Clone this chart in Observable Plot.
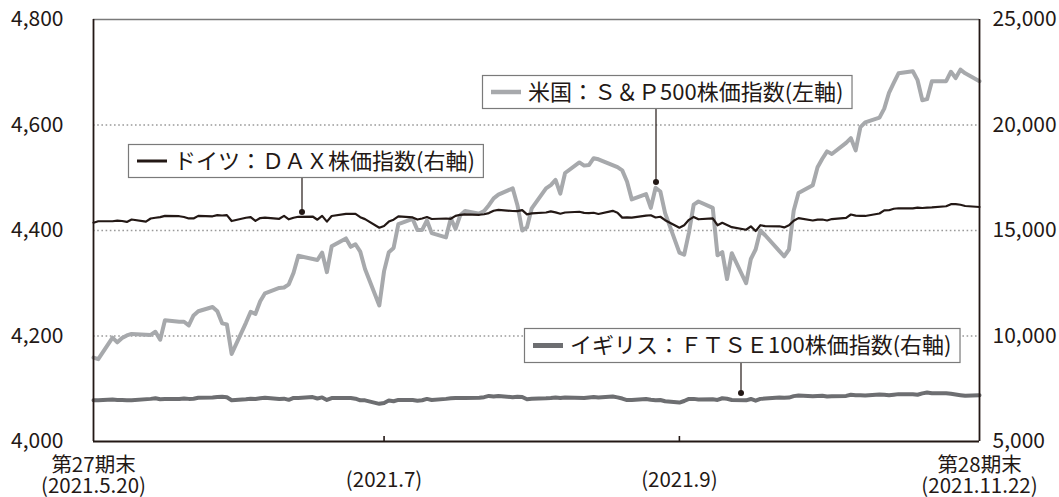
<!DOCTYPE html>
<html><head><meta charset="utf-8">
<script src="https://cdn.jsdelivr.net/npm/d3@7"></script>
<script src="https://cdn.jsdelivr.net/npm/@observablehq/plot@0.6"></script>
<style>
html,body{margin:0;padding:0;background:#fff;}
#chart{width:1059px;height:497px;}
svg{display:block;}
</style></head><body><div id="chart"></div>
<script>
// trading days (month-day, 2021)
const dates = [
"05-20","05-21","05-24","05-25","05-26","05-27","05-28","05-31",
"06-01","06-02","06-03","06-04","06-07","06-08","06-09","06-10","06-11","06-14","06-15","06-16","06-17","06-18","06-21","06-22","06-23","06-24","06-25","06-28","06-29","06-30",
"07-01","07-02","07-05","07-06","07-07","07-08","07-09","07-12","07-13","07-14","07-15","07-16","07-19","07-20","07-21","07-22","07-23","07-26","07-27","07-28","07-29","07-30",
"08-02","08-03","08-04","08-05","08-06","08-09","08-10","08-11","08-12","08-13","08-16","08-17","08-18","08-19","08-20","08-23","08-24","08-25","08-26","08-27","08-30","08-31",
"09-01","09-02","09-03","09-06","09-07","09-08","09-09","09-10","09-13","09-14","09-15","09-16","09-17","09-20","09-21","09-22","09-23","09-24","09-27","09-28","09-29","09-30",
"10-01","10-04","10-05","10-06","10-07","10-08","10-11","10-12","10-13","10-14","10-15","10-18","10-19","10-20","10-21","10-22","10-25","10-26","10-27","10-28","10-29",
"11-01","11-02","11-03","11-04","11-05","11-08","11-09","11-10","11-11","11-12","11-15","11-16","11-17","11-18","11-19","11-22"
];
// 米国：S&P500 (left axis)
const spx = [
4159,4156,4197,4188,4196,4201,4204,null,
4202,4208,4193,4230,4227,4227,4220,4239,4247,4255,4247,4224,4222,4166,4225,4246,4242,4266,4281,4291,4292,4298,
4320,4352,null,4344,4358,4321,4370,4385,4369,4374,4360,4327,4258,4323,4359,4367,4412,4422,4401,4401,4419,4395,
4387,4423,4403,4429,4437,4432,4437,4448,4461,4468,4480,4448,4400,4406,4442,4480,4486,4496,4470,4509,4529,4523,
4524,4537,4535,null,4520,4514,4493,4459,4469,4443,4481,4474,4433,4358,4354,4396,4449,4455,4443,4353,4359,4308,
4357,4300,4346,4364,4400,4391,4361,4351,4364,4438,4471,4486,4520,4536,4550,4545,4566,4575,4552,4596,4605,
4614,4631,4661,4680,4698,4702,4685,4647,4649,4683,4683,4701,4689,4705,4698,4683
];
// ドイツ：DAX (right axis)
const dax = [
15370,15438,15438,15465,15450,15406,15520,15421,
15568,15603,15632,15693,15677,15640,15571,15571,15693,15674,15729,15711,15727,15448,15603,15636,15456,15589,15607,15554,15691,15531,
15603,15650,15662,15511,15692,15421,15688,15790,15790,15788,15630,15540,15133,15216,15423,15514,15669,15618,15519,15571,15640,15544,
15568,15555,15692,15744,15761,15745,15770,15826,15937,15977,15925,15921,15965,15765,15808,15852,15906,15860,15793,15852,15888,15835,
15824,15840,15781,15932,15844,15610,15623,15609,15701,15722,15616,15652,15490,15132,15249,15506,15644,15532,15573,15249,15365,15261,
15156,15036,15195,14973,15250,15207,15199,15147,15249,15463,15587,15474,15516,15522,15473,15543,15600,15757,15705,15696,15689,
15807,15955,15960,16030,16054,16048,16083,16067,16083,16094,16148,16248,16251,16221,16160,16115
];
// イギリス：FTSE100 (right axis)
const ftse = [
6960,6960,6990,6970,6965,6960,6960,null,
7020,7050,7005,7010,7015,7035,7020,7030,7075,7085,7110,7125,7095,6955,7000,7030,7015,7050,7075,7010,7030,6975,
7065,7065,7105,7040,7090,6970,7060,7065,7065,7030,6950,6950,6785,6820,6940,6910,6970,6965,6935,6955,7020,6970,
7020,7045,7065,7060,7060,7070,7100,7160,7135,7160,7095,7120,7110,7000,7025,7050,7065,7090,7065,7090,null,7060,
7090,7105,7080,7130,7090,7035,6965,6970,7010,6975,6955,6965,6905,6845,6920,7020,7020,6990,7000,6970,7050,7025,
6970,6950,7015,6935,7020,7035,7085,7070,7080,7150,7175,7145,7155,7165,7130,7145,7160,7215,7195,7190,7175,
7230,7215,7190,7220,7245,7240,7215,7280,7325,7290,7290,7265,7230,7195,7165,7195
];
const leftTicks = [4000,4200,4400,4600,4800];
const rightTicks = [5000,10000,15000,20000,25000];
const gridTicks = [4200,4400,4600];
const xTickDates = ["2021-07-20","2021-09-20"];
const xLabelDates = ["2021-05-20","2021-07-20","2021-09-20","2021-11-22"];
const xLabelTop = ["第27期末","","","第28期末"];
const xLabelBottom = ["(2021.5.20)","(2021.7)","(2021.9)","(2021.11.22)"];
const seriesNames = ["米国：Ｓ＆Ｐ500株価指数(左軸)","ドイツ：ＤＡＸ株価指数(右軸)","イギリス：ＦＴＳＥ100株価指数(右軸)"];

const parse = d3.utcParse("%Y-%m-%d");
const L0 = 4000, L1 = 4800, R0 = 5000, R1 = 25000;
const toLeft = v => L0 + (v - R0) * (L1 - L0) / (R1 - R0);
const fromLeft = v => R0 + (v - L0) * (R1 - R0) / (L1 - L0);
const table = (vals, conv) => dates.map((d, i) => ({date: parse("2021-" + d), v: vals[i] == null ? null : conv(vals[i])})).filter(r => r.v != null);
const spxRows = table(spx, v => v);
const daxRows = table(dax, toLeft);
const ftseRows = table(ftse, toLeft);
const xLabels = xLabelDates.map((d, i) => ({date: parse(d), top: xLabelTop[i], bottom: xLabelBottom[i]}));

const INK = "#231815";
const C_SPX = "#a7a9ac", C_DAX = "#231815", C_FTSE = "#6d6e71";
const FONT = "'Noto Sans CJK JP', 'Noto Sans', sans-serif";
const x0 = parse(xLabelDates[0]), x1 = parse(xLabelDates[3]);

const plot = Plot.plot({
  width: 1059, height: 497,
  marginLeft: 93, marginRight: 80, marginTop: 19, marginBottom: 56,
  style: {fontFamily: FONT, fontSize: "21px", color: INK, background: "#fff"},
  x: {type: "utc", domain: [x0, x1], axis: null},
  y: {domain: [L0, L1], axis: null},
  marks: [
    Plot.gridY(gridTicks, {stroke: "#9a9a9a", strokeOpacity: 1, strokeWidth: 1.6, strokeDasharray: "1.6,2.6"}),
    Plot.axisY(leftTicks, {anchor: "left", tickSize: 0, tickPadding: 30, tickFormat: d3.format(","), fontSize: 21, fill: INK, label: null}),
    Plot.axisY(rightTicks.map(toLeft), {anchor: "right", tickSize: 0, tickPadding: 13, tickFormat: d => d3.format(",")(Math.round(fromLeft(d))), fontSize: 21, fill: INK, label: null}),
    Plot.line(spxRows, {x: "date", y: "v", stroke: C_SPX, strokeWidth: 4, strokeLinejoin: "round"}),
    Plot.line(ftseRows, {x: "date", y: "v", stroke: C_FTSE, strokeWidth: 4, strokeLinejoin: "round"}),
    Plot.line(daxRows, {x: "date", y: "v", stroke: C_DAX, strokeWidth: 2.2, strokeLinejoin: "round"}),
    Plot.ruleY([L1], {stroke: "#7a7a7a", strokeWidth: 1.6}),
    Plot.ruleY([L0], {stroke: INK, strokeWidth: 1.8}),
    Plot.ruleX([x0, x1], {stroke: INK, strokeWidth: 1.8}),
    Plot.tickX(xTickDates.map(parse), {x: d => d, insetTop: 417, stroke: INK, strokeWidth: 1.6}),
    Plot.text(xLabels.filter(d => d.top), {x: "date", text: d => d.top + "\n" + d.bottom, frameAnchor: "bottom", dy: 34.5, lineAnchor: "middle", lineHeight: 1.0, fontSize: 20.5, fill: INK}),
    Plot.text(xLabels.filter(d => !d.top), {x: "date", text: "bottom", frameAnchor: "bottom", dy: 45, fontSize: 20.5, fill: INK})
  ]
});
document.getElementById("chart").appendChild(plot);

// legend callouts (annotation layout)
const svg = d3.select(plot);
const callouts = [
  {label: seriesNames[1], color: C_DAX, sw: 3, bx: 128, by: 144, bh: 33, lx: 302, ly: 212},
  {label: seriesNames[0], color: C_SPX, sw: 4.5, bx: 482, by: 75, bh: 33, lx: 656, ly: 182},
  {label: seriesNames[2], color: C_FTSE, sw: 5, bx: 524, by: 328, bh: 34, lx: 741, ly: 393}
];
const g = svg.append("g").attr("text-anchor", "start");
for (const c of callouts) {
  const gg = g.append("g");
  gg.append("line").attr("x1", c.lx).attr("x2", c.lx).attr("y1", c.by + c.bh).attr("y2", c.ly).attr("stroke", INK).attr("stroke-width", 1.2);
  gg.append("circle").attr("cx", c.lx).attr("cy", c.ly).attr("r", 3).attr("fill", INK);
  const rect = gg.append("rect").attr("x", c.bx + 0.5).attr("y", c.by + 0.5).attr("height", c.bh).attr("fill", "#fff").attr("stroke", "#7a7a7a").attr("stroke-width", 1.2);
  gg.append("line").attr("x1", c.bx + 9).attr("x2", c.bx + 39).attr("y1", c.by + c.bh / 2 + 0.5).attr("y2", c.by + c.bh / 2 + 0.5).attr("stroke", c.color).attr("stroke-width", c.sw);
  const t = gg.append("text").attr("x", c.bx + 46).attr("y", c.by + c.bh / 2 + 0.5).attr("dy", "0.36em")
    .attr("text-anchor", "start").attr("font-family", FONT).attr("font-size", 22).attr("fill", INK).text(c.label);
  const w = t.node().getComputedTextLength();
  rect.attr("width", 46 + w + 8);
}
</script></body></html>
